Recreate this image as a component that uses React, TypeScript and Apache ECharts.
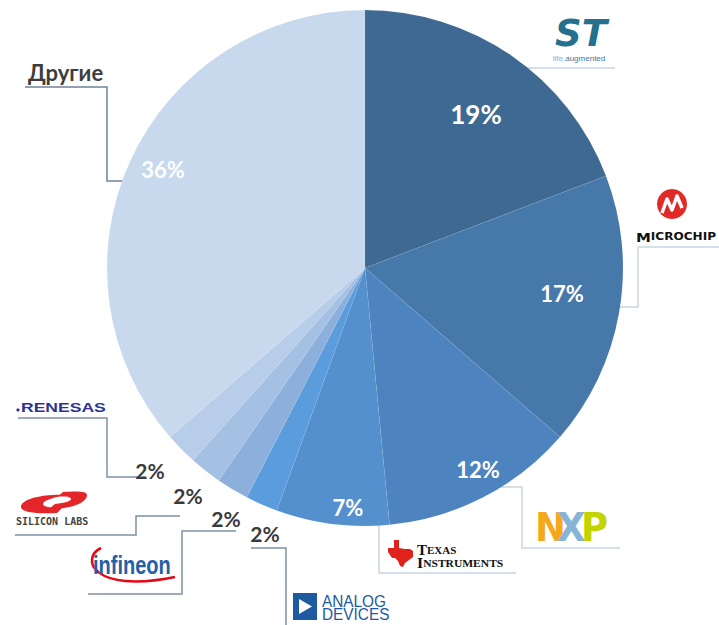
import React, { useEffect, useRef } from 'react';
import * as echarts from 'echarts';

// ---- data ----
const companies = ['STMicroelectronics', 'Microchip', 'NXP', 'Texas Instruments', 'Analog Devices', 'Infineon', 'Silicon Labs', 'Renesas', 'Другие'];
const shares = [19, 17, 12, 7, 2, 2, 2, 2, 36];
const othersTitle = 'Другие';

// ---- styles / layout ----
const sliceColors = ['#3e6993', '#4678aa', '#4d84bf', '#5490ce', '#5a9cdc', '#8cafdb', '#a4c0e3', '#b8cde9', '#c9d9ed'];
const labelPos = [[476, 114], [562, 293], [478, 469], [348, 507], [265, 533], [226, 518], [188, 495], [150, 470], [163, 169]];
const labelSize = [26, 22, 22, 22, 21, 21, 21, 21, 22];
const labelColor = ['#ffffff', '#ffffff', '#ffffff', '#ffffff', '#3a3a3a', '#3a3a3a', '#3a3a3a', '#3a3a3a', '#ffffff'];
const LIGHT = '#c9d4e1';
const DARK = '#7f90a6';
const leaderLines = [
  { pts: [[449, 131], [528, 131], [528, 68], [615, 68]], color: LIGHT },
  { pts: [[541, 307], [638, 307], [638, 247], [719, 247]], color: LIGHT },
  { pts: [[460, 487], [522, 487], [522, 548], [620, 548]], color: LIGHT },
  { pts: [[330, 520], [379, 520], [379, 573], [516, 573]], color: LIGHT },
  { pts: [[251, 548], [286, 548], [286, 626]], color: DARK },
  { pts: [[236, 531], [182, 531], [182, 594], [88, 594]], color: DARK },
  { pts: [[180, 516], [136, 516], [136, 535], [15, 535]], color: DARK },
  { pts: [[137, 477], [107, 477], [107, 418], [18, 418]], color: DARK },
  { pts: [[188, 181], [107, 181], [107, 87], [25, 87]], color: '#6f8299' },
];

const SILABS_D =
  'M0 16 C0 8 22 3 46 4 C32 6 22 10 22 13 C22 16 30 17 42 16 L36 22 C14 23 0 21 0 16 Z ' +
  'M66 4 C66 12 50 18 28 18 L34 13 C44 12 50 10 50 8 C50 6 44 5 36 6 L42 1 C56 0 66 0 66 4 Z';
echarts.graphic.registerShape('silabsSwoosh', echarts.graphic.extendPath(SILABS_D, {}) as any);

function buildGraphics(): any[] {
  const g: any[] = [];
  leaderLines.forEach((l) => {
    g.push({ type: 'polyline', silent: true, shape: { points: l.pts }, style: { stroke: l.color, lineWidth: 1.5, fill: null } });
  });

  // Другие
  g.push({ type: 'text', x: 28, y: 72, style: { text: othersTitle, fontFamily: 'Lato', fontWeight: 'bold', fontSize: 22, fill: '#3d3d3d', align: 'left', verticalAlign: 'middle' } });

  // ST logo
  g.push({
    type: 'text', x: 581, y: 33,
    style: {
      text: 'ST', fontFamily: 'DejaVu Sans', fontWeight: 900, fontStyle: 'italic', fontSize: 37,
      fill: '#23718f', align: 'center', verticalAlign: 'middle',
    },
  });
  g.push({
    type: 'text', x: 579, y: 58,
    style: {
      text: '{a|life.}{b|augmented}', align: 'center', verticalAlign: 'middle',
      rich: { a: { fontSize: 8, fill: '#7ab4df', fontFamily: 'Liberation Sans' }, b: { fontSize: 8, fill: '#3f78a6', fontFamily: 'Liberation Sans' } },
    },
  });

  // Microchip logo
  g.push({ type: 'circle', shape: { cx: 672, cy: 204, r: 15 }, style: { fill: '#e12a28' } });
  g.push({ type: 'polyline', shape: { points: [[662, 213], [667, 199], [672, 210], [677, 196], [682, 208]] }, style: { stroke: '#ffffff', lineWidth: 3.5, fill: null, lineJoin: 'round' } });
  g.push({
    type: 'text', x: 636, y: 237, scaleX: 1.15,
    style: {
      text: '{a|M}{b|ICROCHIP}', align: 'left', verticalAlign: 'middle',
      rich: {
        a: { fontSize: 13, fontWeight: 'bold', fill: '#111', fontFamily: 'DejaVu Sans' },
        b: { fontSize: 10.5, fontWeight: 'bold', fill: '#111', fontFamily: 'DejaVu Sans' },
      },
    },
  });

  // NXP logo
  const nxp = [
    { ch: 'N', x: 535, c: '#f5a91a' },
    { ch: 'X', x: 557, c: '#86b3d6' },
    { ch: 'P', x: 581, c: '#c3d300' },
  ];
  nxp.forEach((l) => {
    g.push({ type: 'text', x: l.x, y: 528, scaleX: 0.95, style: { text: l.ch, fontFamily: 'DejaVu Sans', fontWeight: 'bold', fontSize: 39, fill: l.c, align: 'left', verticalAlign: 'middle' } });
  });

  // Texas Instruments
  g.push({
    type: 'polygon', x: 388, y: 540,
    shape: { points: [[6, 0], [11, 0], [11, 8], [17, 9], [22, 9], [25, 11], [25, 17], [21, 20], [17, 23], [15, 27], [12, 26], [10, 21], [7, 18], [4, 18], [2, 15], [0, 12], [0, 8], [6, 8]] },
    style: { fill: '#e0221c' },
  });
  g.push({
    type: 'text', x: 417, y: 550,
    style: {
      text: '{a|T}{b|EXAS}', align: 'left', verticalAlign: 'middle',
      rich: { a: { fontSize: 15, fontWeight: 'bold', fill: '#111', fontFamily: 'Liberation Serif' }, b: { fontSize: 11, fontWeight: 'bold', fill: '#111', fontFamily: 'Liberation Serif' } },
    },
  });
  g.push({
    type: 'text', x: 417, y: 563, scaleX: 1.05,
    style: {
      text: '{a|I}{b|NSTRUMENTS}', align: 'left', verticalAlign: 'middle',
      rich: { a: { fontSize: 15, fontWeight: 'bold', fill: '#111', fontFamily: 'Liberation Serif' }, b: { fontSize: 11, fontWeight: 'bold', fill: '#111', fontFamily: 'Liberation Serif' } },
    },
  });

  // Analog Devices
  g.push({ type: 'rect', shape: { x: 293, y: 593, width: 24, height: 27 }, style: { fill: '#1d5aa0' } });
  g.push({ type: 'polygon', shape: { points: [[299, 599], [299, 614], [312, 606.5]] }, style: { fill: '#ffffff' } });
  g.push({ type: 'text', x: 322, y: 601, scaleX: 0.96, style: { text: 'ANALOG', fontFamily: 'Liberation Sans', fontSize: 16, fill: '#1d5aa0', align: 'left', verticalAlign: 'middle' } });
  g.push({ type: 'text', x: 322, y: 614, scaleX: 0.96, style: { text: 'DEVICES', fontFamily: 'Liberation Sans', fontSize: 16, fill: '#1d5aa0', align: 'left', verticalAlign: 'middle' } });

  // Infineon
  g.push({ type: 'bezierCurve', shape: { x1: 101, y1: 548, cpx1: 80, cpy1: 558, cpx2: 92, cpy2: 594, x2: 175, y2: 577 }, style: { stroke: '#e30613', lineWidth: 2.5, fill: null } });
  g.push({ type: 'text', x: 93, y: 566, scaleX: 0.8, style: { text: 'infineon', fontFamily: 'Liberation Sans', fontWeight: 'bold', fontSize: 25, fill: '#2460a8', align: 'left', verticalAlign: 'middle' } });

  // Silicon Labs
  g.push({ type: 'silabsSwoosh', x: 21, y: 491, style: { fill: '#e3262a' } });
  g.push({ type: 'text', x: 16, y: 521, style: { text: 'SILICON LABS', fontFamily: 'DejaVu Sans Mono', fontWeight: 'bold', fontSize: 10, fill: '#444', align: 'left', verticalAlign: 'middle' } });

  // Renesas
  g.push({ type: 'circle', shape: { cx: 18, cy: 410, r: 1.6 }, style: { fill: '#2e3192' } });
  g.push({ type: 'text', x: 21, y: 407, scaleX: 1.35, style: { text: 'RENESAS', fontFamily: 'Liberation Sans', fontWeight: 'bold', fontSize: 13, fill: '#2e3192', align: 'left', verticalAlign: 'middle' } });

  return g;
}

export default function App() {
  const ref = useRef<HTMLDivElement>(null);
  useEffect(() => {
    if (!ref.current) return;
    const chart = echarts.init(ref.current, null, { renderer: 'svg' });
    const data = companies.map((name, i) => ({
      name,
      value: shares[i],
      itemStyle: { color: sliceColors[i] },
      label: { color: labelColor[i], fontSize: labelSize[i] },
    }));
    chart.setOption({
      animation: false,
      backgroundColor: '#ffffff',
      series: [
        {
          type: 'pie',
          center: [365, 268],
          radius: 258,
          startAngle: 90,
          clockwise: true,
          silent: true,
          itemStyle: { borderColor: 'rgba(255,255,255,0.12)', borderWidth: 0.5 },
          label: {
            show: true,
            position: 'inside',
            formatter: '{c}%',
            fontFamily: 'Lato',
            fontWeight: 'bold',
          },
          labelLine: { show: false },
          labelLayout: (p: any) => ({
            x: labelPos[p.dataIndex][0],
            y: labelPos[p.dataIndex][1],
            align: 'center',
            verticalAlign: 'middle',
          }),
          emphasis: { disabled: true },
          data,
        },
      ],
      graphic: { elements: buildGraphics() },
    });
    return () => chart.dispose();
  }, []);
  return <div ref={ref} style={{ position: 'fixed', left: 0, top: 0, width: 719, height: 625 }} />;
}
